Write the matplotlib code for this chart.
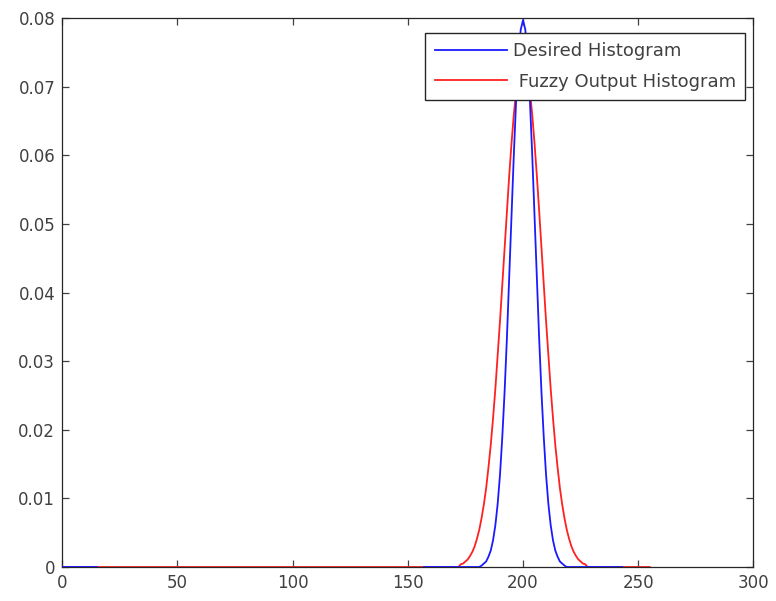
import matplotlib.pyplot as plt
import numpy as np

plt.rcParams['font.family'] = ['DejaVu Sans']

# bins 0..255
bins = np.arange(0, 256)

# desired histogram, nonzero part around 200 (bins 182..218)
blue_x = np.arange(182, 219)
blue_y = [0.0002, 0.0005, 0.0008, 0.0015, 0.0024, 0.0039, 0.0061, 0.0092,
          0.0134, 0.0189, 0.0255, 0.0333, 0.0420, 0.0511, 0.0600, 0.0679,
          0.0742, 0.0783, 0.0797, 0.0783, 0.0742, 0.0679, 0.0600, 0.0511,
          0.0420, 0.0333, 0.0255, 0.0189, 0.0134, 0.0092, 0.0061, 0.0039,
          0.0024, 0.0015, 0.0008, 0.0005, 0.0002]
# blue was only visible on these bin ranges
blue_shown = [(0, 15), (157, 243)]

# fuzzy output histogram, nonzero part (bins 173..227)
red_x = np.arange(173, 228)
red_y = [0.0004, 0.0005, 0.0008, 0.0011, 0.0016, 0.0022, 0.0030, 0.0041,
         0.0054, 0.0071, 0.0091, 0.0115, 0.0145, 0.0178, 0.0217, 0.0260,
         0.0308, 0.0358, 0.0411, 0.0465, 0.0519, 0.0570, 0.0617, 0.0659,
         0.0693, 0.0719, 0.0735, 0.0740, 0.0735, 0.0719, 0.0693, 0.0659,
         0.0617, 0.0570, 0.0519, 0.0465, 0.0411, 0.0358, 0.0308, 0.0260,
         0.0217, 0.0178, 0.0145, 0.0115, 0.0091, 0.0071, 0.0054, 0.0041,
         0.0030, 0.0022, 0.0016, 0.0011, 0.0008, 0.0005, 0.0004]

labels = ['Desired Histogram', ' Fuzzy Output Histogram']
xticks = [0, 50, 100, 150, 200, 250, 300]
yticks = [0, 0.01, 0.02, 0.03, 0.04, 0.05, 0.06, 0.07, 0.08]
ytick_labels = ['0', '0.01', '0.02', '0.03', '0.04', '0.05', '0.06', '0.07', '0.08']

red = np.zeros(len(bins))
red[red_x] = red_y
blue = np.zeros(len(bins)) * np.nan
for a, b in blue_shown:
    blue[a:b + 1] = 0.0
blue[blue_x] = blue_y

fig = plt.figure(figsize=(7.76, 6.01), dpi=100)
ax = fig.add_axes([0.080, 0.0566, 0.891, 0.9134])

ax.plot(bins, red, color='#ff2020', lw=1.3, label=labels[1], zorder=2)
ax.plot(bins, blue, color='#1a1aff', lw=1.3, label=labels[0], zorder=3)

ax.set_xlim(0, 300)
ax.set_ylim(0, 0.08)
ax.set_xticks(xticks)
ax.set_yticks(yticks)
ax.set_yticklabels(ytick_labels)
ax.tick_params(direction='in', top=True, right=True, length=5, width=0.9,
               labelsize=12, colors='#404040', pad=5)
for s in ax.spines.values():
    s.set_color('#262626')
    s.set_linewidth(0.9)

h, l = ax.get_legend_handles_labels()
leg = ax.legend(h[::-1], l[::-1], loc='upper right',
                bbox_to_anchor=(0.988, 0.973), fontsize=13,
                fancybox=False, framealpha=1, edgecolor='#262626',
                borderaxespad=0, handlelength=4.0, handletextpad=0.35,
                borderpad=0.5, labelspacing=0.7)
leg.get_frame().set_linewidth(1.0)
for t in leg.get_texts():
    t.set_color('#404040')

fig.savefig('out.png', dpi=100)
